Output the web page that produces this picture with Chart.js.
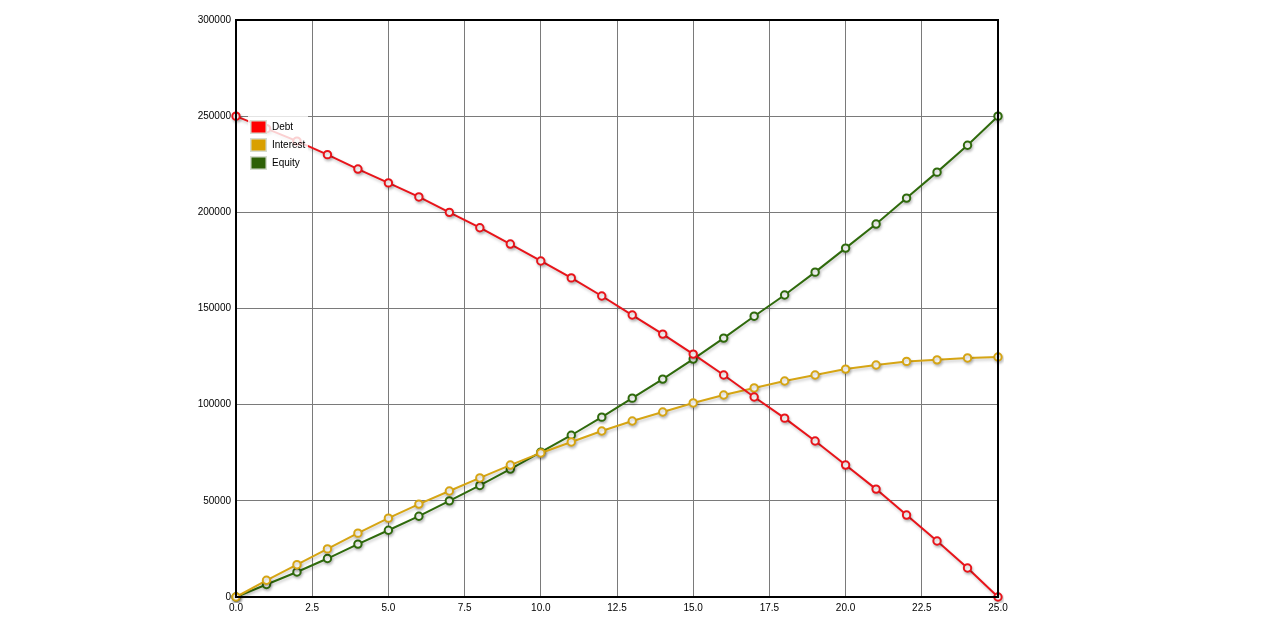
<!DOCTYPE html>
<html>
<head>
<meta charset="utf-8">
<script src="https://cdn.jsdelivr.net/npm/chart.js@4"></script>
<style>
  html, body { margin:0; padding:0; background:#fff; }
  #wrap { width:1261px; height:633px; }
</style>
</head>
<body>
<div id="wrap"><canvas id="loan_chart" width="1261" height="633"></canvas></div>
<script>
// years 0..25
let years = [0,1,2,3,4,5,6,7,8,9,10,11,12,13,14,15,16,17,18,19,20,21,22,23,24,25] ;
let debtVals = [250000,243500,237000,230000,222500,215300,208000,200000,192000,183500,
                174700,165900,156500,146600,136700,126300,115400,104000,93000,81100,
                68600,56100,42600,29100,15100,0] ;
let interestVals = [0,8700,16800,25000,33200,41000,48300,55100,61900,68600,
                    74900,80600,86300,91500,96200,100900,105000,108700,112300,115400,
                    118500,120600,122500,123300,124300,124800] ;
let equityVals = [0,6500,13000,20000,27500,34700,42000,50000,58000,66500,
                  75300,84100,93500,103400,113300,123700,134600,146000,157000,168900,
                  181400,193900,207400,220900,234900,250000] ;
let seriesNames = ['Debt','Interest','Equity'] ;
let lineColors = ['#e8141a','#d6a514','#2f6a0c'] ;
let boxColors = ['#ff0000','#d9a000','#2d6006'] ;
let yTicks = [0,50000,100000,150000,200000,250000,300000] ;

function toPoints (vals) {
    return years.map((x,i)=>{
        return { x: x, y: vals[i] } ;
    }) ;
}

let allVals = [debtVals, interestVals, equityVals] ;
let datasets = allVals.map((vals,i)=>{
    return {
        label: seriesNames[i],
        data: toPoints(vals),
        borderColor: lineColors[i],
        backgroundColor: '#ffffff',
        pointBackgroundColor: '#ffffff',
        pointBorderColor: lineColors[i],
        pointRadius: 3.7,
        pointBorderWidth: 2,
        borderWidth: 2,
        tension: 0,
        clip: 6,
    } ;
}) ;

// soft shadow under the lines
const shadowPlugin = {
    id: 'lineShadow',
    beforeDatasetDraw (chart) {
        let ctx = chart.ctx ;
        ctx.save() ;
        ctx.shadowColor = 'rgba(0,0,0,0.22)' ;
        ctx.shadowBlur = 3 ;
        ctx.shadowOffsetX = 1 ;
        ctx.shadowOffsetY = 2 ;
    },
    afterDatasetDraw (chart) {
        chart.ctx.restore() ;
    }
} ;

// black frame round plot area plus the little legend box inside
const framePlugin = {
    id: 'frameLegend',
    afterDatasetsDraw (chart) {
        let ctx = chart.ctx ;
        let a = chart.chartArea ;
        ctx.save() ;
        ctx.strokeStyle = '#000' ;
        ctx.lineWidth = 2 ;
        ctx.strokeRect(a.left, a.top, a.right - a.left, a.bottom - a.top) ;

        // legend
        let lx = a.left + 12, ly = a.top + 95 ;
        ctx.fillStyle = 'rgba(255,255,255,0.8)' ;
        ctx.fillRect(lx, ly, 60, 58) ;
        ctx.font = '10px "Liberation Sans", Arial, sans-serif' ;
        ctx.textBaseline = 'middle' ;
        for (let i=0; i<seriesNames.length; i++) {
            let by = ly + 5 + i*18 ;
            ctx.fillStyle = '#d6dcd0' ;
            ctx.fillRect(lx + 2, by, 17, 14) ;
            ctx.fillStyle = boxColors[i] ;
            ctx.fillRect(lx + 3.5, by + 1.5, 14, 11) ;
            ctx.fillStyle = '#000' ;
            ctx.fillText(seriesNames[i], lx + 24, by + 7) ;
        }
        ctx.restore() ;
    }
} ;

let ctx_loan = document.getElementById('loan_chart').getContext('2d') ;
let loan_chart = new Chart(ctx_loan, {
    type: 'line',
    data: { datasets: datasets },
    plugins: [shadowPlugin, framePlugin],
    options: {
        responsive: false,
        animation: false,
        layout: { padding: { left: 0, right: 263, top: 20, bottom: 0 } },
        plugins: {
            legend: { display: false },
            tooltip: { enabled: false },
        },
        scales: {
            x: {
                type: 'linear',
                min: 0,
                max: 25,
                afterFit: function (scale) { scale.height = 36 ; },
                ticks: {
                    stepSize: 2.5,
                    color: '#000',
                    padding: 5,
                    font: { family: '"Liberation Sans", Arial, sans-serif', size: 10 },
                    callback: function (value) { return value.toFixed(1) ; },
                },
                grid: { color: '#7a7a7a', lineWidth: 1, drawTicks: false },
                border: { color: '#000', width: 2 },
            },
            y: {
                min: 0,
                max: 300000,
                afterFit: function (scale) { scale.width = 236 ; },
                afterBuildTicks: function (scale) {
                    scale.ticks = yTicks.map(v => ({ value: v })) ;
                },
                ticks: {
                    color: '#000',
                    padding: 5,
                    font: { family: '"Liberation Sans", Arial, sans-serif', size: 10 },
                    callback: function (value) { return String(value) ; },
                },
                grid: { color: '#7a7a7a', lineWidth: 1, drawTicks: false },
                border: { color: '#000', width: 2 },
            }
        }
    }
}) ;
</script>
</body>
</html>
